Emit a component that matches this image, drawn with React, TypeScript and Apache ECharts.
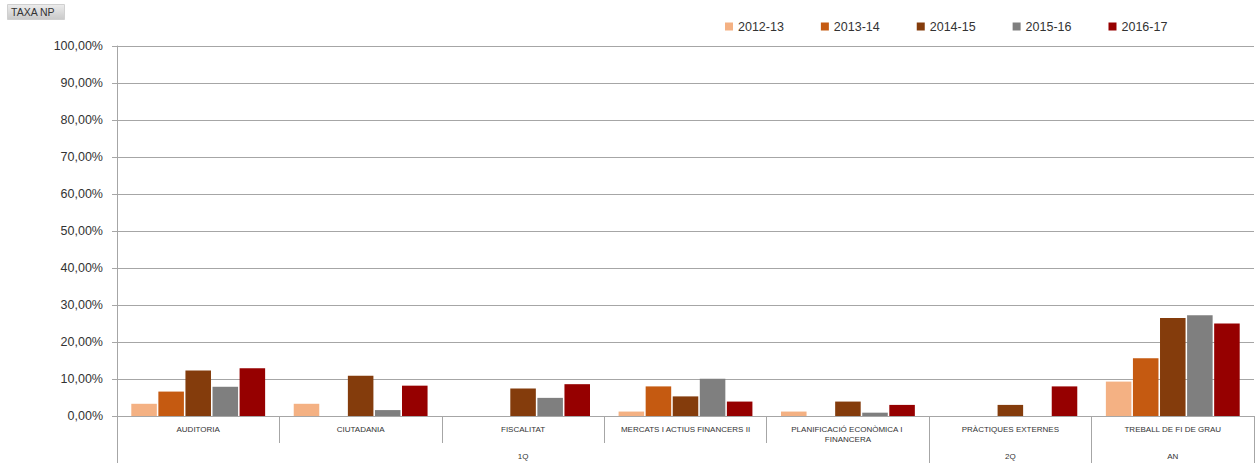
import React, { useEffect, useRef } from "react";
import * as echarts from "echarts";

const categories = [
  "AUDITORIA",
  "CIUTADANIA",
  "FISCALITAT",
  "MERCATS I ACTIUS FINANCERS II",
  "PLANIFICACIÓ ECONÒMICA I FINANCERA",
  "PRÀCTIQUES EXTERNES",
  "TREBALL DE FI DE GRAU",
];
const groupLabels = ["", "", "1Q", "", "", "2Q", "AN"];
const groupStarts = [0, 5, 6];

const seriesNames = ["2012-13", "2013-14", "2014-15", "2015-16", "2016-17"];
const seriesColors = ["#F4B183", "#C55A11", "#843C0C", "#7F7F7F", "#960000"];

const v2012 = [3.3, 3.3, null, 1.2, 1.2, null, 9.3];
const v2013 = [6.6, null, null, 8.0, null, null, 15.6];
const v2014 = [12.3, 10.9, 7.4, 5.3, 3.9, 3.0, 26.5];
const v2015 = [7.9, 1.6, 4.9, 10.1, 0.9, null, 27.2];
const v2016 = [12.9, 8.2, 8.6, 3.9, 3.0, 8.0, 25.0];
const seriesValues = [v2012, v2013, v2014, v2015, v2016];

const yTicks = { min: 0, max: 100, interval: 10 };

export default function App() {
  const ref = useRef<HTMLDivElement>(null);
  useEffect(() => {
    if (!ref.current) return;
    const chart = echarts.init(ref.current, null, { renderer: "svg" });
    const grey = "#a6a6a6";
    chart.setOption({
      animation: false,
      backgroundColor: "#ffffff",
      textStyle: { fontFamily: "Liberation Sans, Arial, sans-serif" },
      legend: {
        left: 720,
        top: 15,
        itemWidth: 8,
        itemHeight: 8,
        itemGap: 37,
        icon: "rect",
        data: seriesNames,
        textStyle: { fontSize: 12.5, color: "#333333", fontFamily: "Liberation Sans, Arial, sans-serif" },
      },
      grid: { left: 117, right: 5, top: 46, bottom: 47, containLabel: false },
      graphic: [
        {
          type: "rect",
          left: 7,
          top: 4,
          shape: { width: 57, height: 15 },
          style: {
            fill: new echarts.graphic.LinearGradient(0, 0, 0, 1, [
              { offset: 0, color: "#ececec" },
              { offset: 1, color: "#c9c9c9" },
            ]),
            stroke: "#d0d0d0",
          },
        },
        {
          type: "text",
          left: 11,
          top: 6,
          style: {
            text: "TAXA NP",
            fontSize: 10.5,
            fill: "#333333",
            fontFamily: "Liberation Sans, Arial, sans-serif",
          },
        },
      ],
      xAxis: [
        {
          type: "category",
          data: categories,
          position: "bottom",
          axisLine: { show: true, lineStyle: { color: grey } },
          axisTick: { show: true, length: 27, lineStyle: { color: grey } },
          axisLabel: {
            interval: 0,
            fontSize: 8,
            color: "#333333",
            margin: 8,
            lineHeight: 10,
            width: 140,
            overflow: "break",
            fontFamily: "Liberation Sans, Arial, sans-serif",
          },
        },
        {
          type: "category",
          data: categories,
          position: "bottom",
          axisLine: { show: false },
          axisTick: {
            show: true,
            length: 47,
            interval: (i: number) => groupStarts.indexOf(i) >= 0,
            lineStyle: { color: grey },
          },
          axisLabel: {
            interval: 0,
            fontSize: 8,
            color: "#333333",
            margin: 35,
            lineHeight: 10,
            formatter: (_v: string, i: number) => groupLabels[i],
            fontFamily: "Liberation Sans, Arial, sans-serif",
          },
          splitLine: { show: false },
        },
      ],
      yAxis: {
        type: "value",
        min: yTicks.min,
        max: yTicks.max,
        interval: yTicks.interval,
        axisLine: { show: true, lineStyle: { color: grey } },
        axisTick: { show: true, length: 5, lineStyle: { color: grey } },
        axisLabel: {
          fontSize: 12.5,
          color: "#333333",
          margin: 14,
          formatter: (v: number) => v.toFixed(2).replace(".", ",") + "%",
          fontFamily: "Liberation Sans, Arial, sans-serif",
        },
        splitLine: { show: true, lineStyle: { color: grey, width: 1 } },
      },
      series: seriesNames.map((name, i) => ({
        name,
        type: "bar",
        xAxisIndex: 0,
        data: seriesValues[i],
        barGap: "6%",
        barCategoryGap: "17.6%",
        itemStyle: { color: seriesColors[i] },
      })),
    });
    return () => chart.dispose();
  }, []);
  return (
    <div
      ref={ref}
      style={{ position: "fixed", left: 0, top: 0, width: 1259, height: 463 }}
    />
  );
}
